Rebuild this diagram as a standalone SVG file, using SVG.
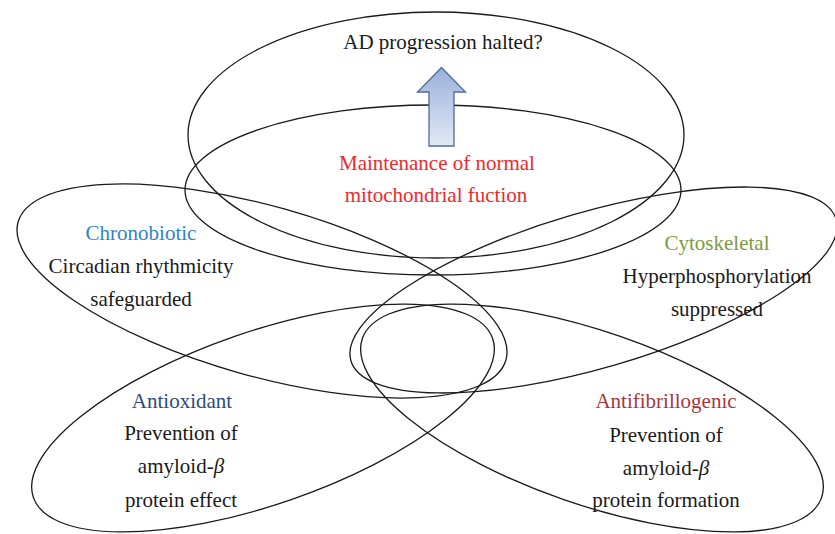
<svg xmlns="http://www.w3.org/2000/svg" width="835" height="534" viewBox="0 0 835 534">
  <defs>
    <linearGradient id="arrowGrad" x1="0" y1="0" x2="0" y2="1">
      <stop offset="0" stop-color="#9ab0d9"/>
      <stop offset="1" stop-color="#e2e9f5"/>
    </linearGradient>
    <style>
      .shape { fill: none; stroke: #1a1a1a; stroke-width: 1.3; }
      text { font-family: "Liberation Serif", "Times New Roman", serif; font-size: 21px; text-anchor: middle; fill: #1a1a1a; }
      .red { fill: #ec2a2e; }
      .blue { fill: #2f85c7; }
      .green { fill: #7c9a3e; }
      .navy { fill: #2b4b7c; }
      .maroon { fill: #a6383b; }
      .arrow { fill: url(#arrowGrad); stroke: #4d6b99; stroke-width: 1.3; }
    </style>
  </defs>
  <rect width="835" height="534" fill="#ffffff"/>

  <g id="ad-progression">
    <ellipse class="shape" cx="436" cy="135" rx="248" ry="123"/>
    <text x="443" y="49">AD progression halted?</text>
  </g>

  <g id="maintenance">
    <ellipse class="shape" cx="433" cy="190" rx="248" ry="85"/>
    <text class="red" x="437" y="170">Maintenance of normal</text>
    <text class="red" x="436" y="202">mitochondrial fuction</text>
  </g>

  <g id="chronobiotic">
    <ellipse class="shape" cx="262" cy="291" rx="253.5" ry="85" transform="rotate(15.8 262 291)"/>
    <text class="blue" x="141" y="240">Chronobiotic</text>
    <text x="141" y="273">Circadian rhythmicity</text>
    <text x="141" y="306">safeguarded</text>
  </g>

  <g id="cytoskeletal">
    <ellipse class="shape" cx="593.5" cy="290" rx="252.7" ry="78" transform="rotate(-16.25 593.5 290)"/>
    <text class="green" x="717" y="250">Cytoskeletal</text>
    <text x="717" y="283">Hyperphosphorylation</text>
    <text x="717" y="316">suppressed</text>
  </g>

  <g id="antioxidant">
    <ellipse class="shape" cx="263" cy="418" rx="243" ry="86.4" transform="rotate(-19.1 263 418)"/>
    <text class="navy" x="182" y="408">Antioxidant</text>
    <text x="181" y="440">Prevention of</text>
    <text x="181" y="473">amyloid-<tspan font-style="italic">β</tspan></text>
    <text x="181" y="507">protein effect</text>
  </g>

  <g id="antifibrillogenic">
    <ellipse class="shape" cx="592" cy="418" rx="243" ry="86.4" transform="rotate(19.1 592 418)"/>
    <text class="maroon" x="666" y="408">Antifibrillogenic</text>
    <text x="666" y="442">Prevention of</text>
    <text x="666" y="475">amyloid-<tspan font-style="italic">β</tspan></text>
    <text x="666" y="507">protein formation</text>
  </g>

  <g id="connectors">
    <path class="arrow" d="M441.5 67.5 L465.5 92 L454 92 L454 146 L429 146 L429 92 L417.5 92 Z"/>
  </g>
</svg>
